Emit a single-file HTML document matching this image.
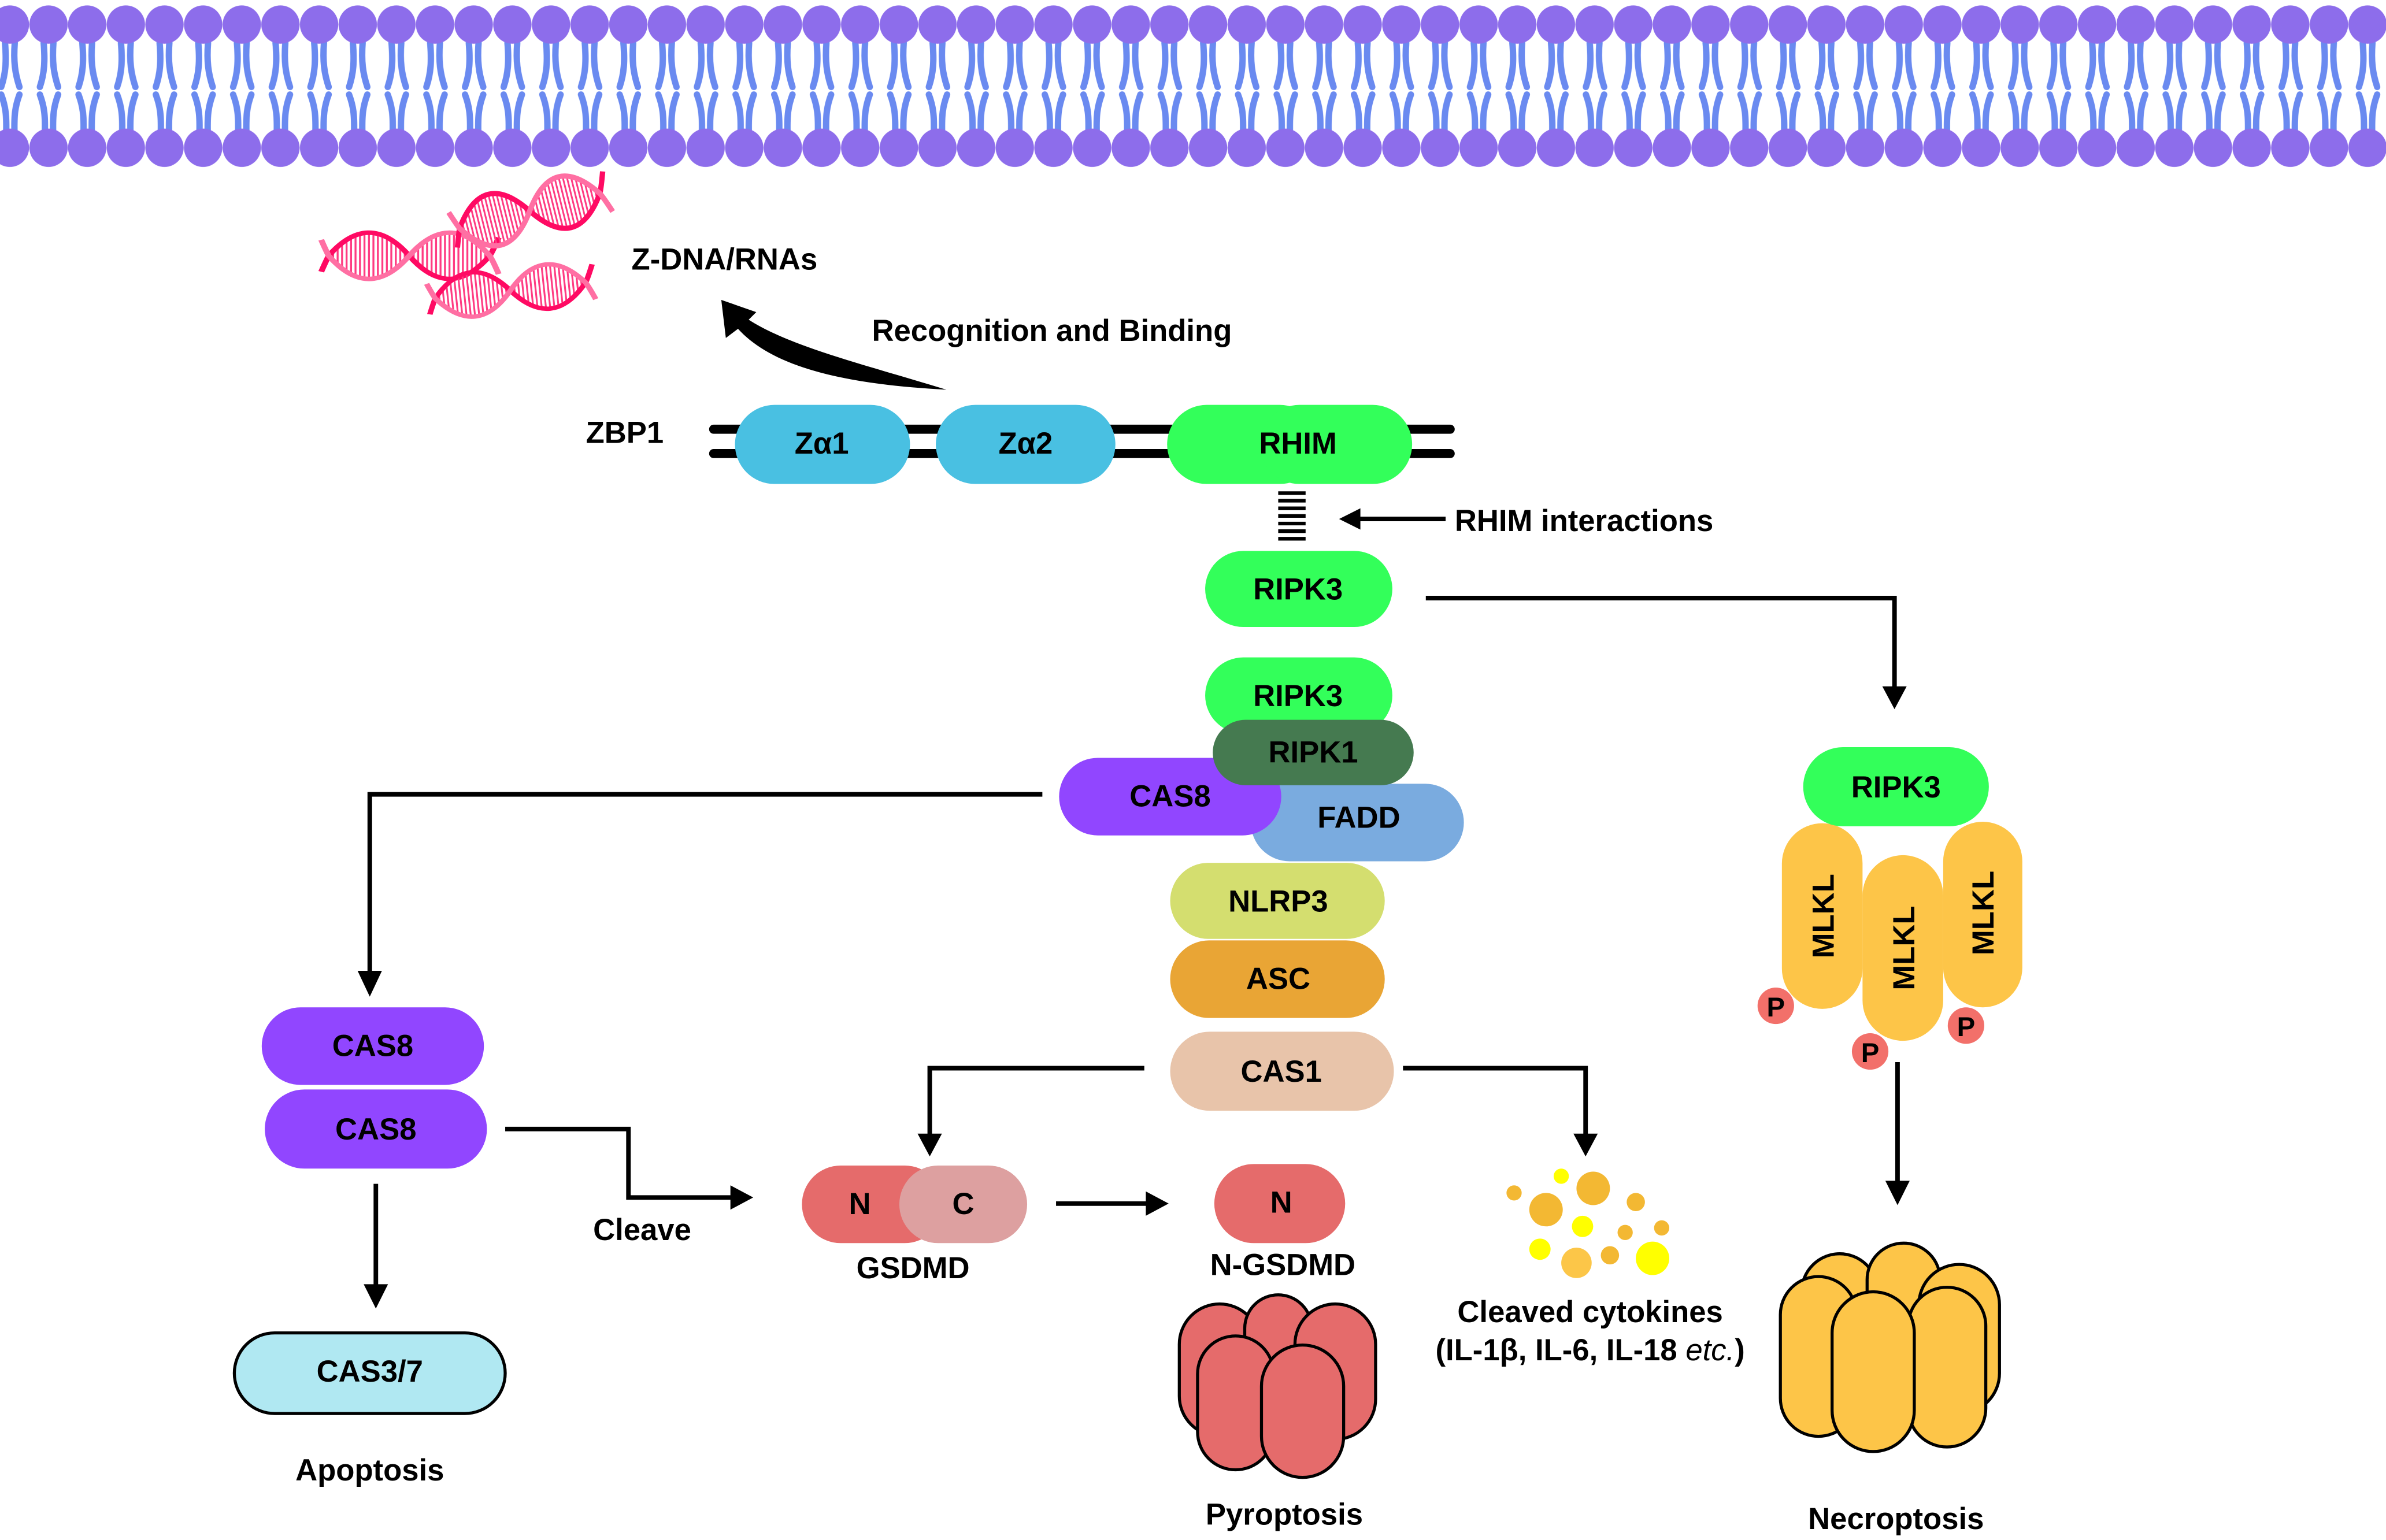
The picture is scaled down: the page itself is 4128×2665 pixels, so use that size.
<!DOCTYPE html>
<html><head><meta charset="utf-8"><style>
html,body{margin:0;padding:0;background:#fff}
svg{display:block}
text{font-family:"Liberation Sans",Arial,sans-serif;font-weight:bold;fill:#000}
</style></head><body>
<svg width="4128" height="2665" viewBox="0 0 1568 1012" xmlns="http://www.w3.org/2000/svg">
<defs>
<pattern id="mem" x="-6.2" y="0" width="25.4" height="120" patternUnits="userSpaceOnUse">
 <g stroke="#6a8af0" stroke-width="4.2" fill="none" stroke-linecap="round">
  <path d="M9.5 28 C10.5 40 10 48 7 57"/>
  <path d="M15.9 28 C15 40 16 48 19 57"/>
  <path d="M7 62 C10 70 10.5 76 10.3 86"/>
  <path d="M19 62 C16 70 15.5 76 15.7 86"/>
 </g>
 <circle cx="12.7" cy="16" r="12.6" fill="#8d6deb"/>
 <circle cx="12.7" cy="97" r="12.6" fill="#8d6deb"/>
</pattern>
<clipPath id="lens">
 <path d="M0 0 C18 -27 36 -27 54 0 C72 27 90 27 108 0 C90 -27 72 -27 54 0 C36 27 18 27 0 0Z"/>
</clipPath>
<g id="helix">
 <g clip-path="url(#lens)" stroke="#ff3b82" stroke-width="1.3">
  <path d="M3 -25V25M6 -25V25M9 -25V25M12 -25V25M15 -25V25M18 -25V25M21 -25V25M24 -25V25M27 -25V25M30 -25V25M33 -25V25M36 -25V25M39 -25V25M42 -25V25M45 -25V25M48 -25V25M51 -25V25M57 -25V25M60 -25V25M63 -25V25M66 -25V25M69 -25V25M72 -25V25M75 -25V25M78 -25V25M81 -25V25M84 -25V25M87 -25V25M90 -25V25M93 -25V25M96 -25V25M99 -25V25M102 -25V25M105 -25V25"/>
 </g>
 <path d="M-5 14 C-2 5 0 0 0 0 C18 -27 36 -27 54 0 C72 27 90 27 108 0 C110 -4 112 -10 114 -16" fill="none" stroke="#ff0a63" stroke-width="4"/>
 <path d="M-5 -14 C-2 -5 0 0 0 0 C18 27 36 27 54 0 C72 -27 90 -27 108 0 C110 4 112 10 114 16" fill="none" stroke="#ff6fa3" stroke-width="4"/>
</g>
</defs>
<rect x="0" y="0" width="1568" height="112" fill="url(#mem)"/>

<!-- DNA helices -->
<use href="#helix" transform="translate(216,168) scale(0.98,0.75)"/>
<use href="#helix" transform="translate(302,150) rotate(-14) scale(0.88,0.85)"/>
<use href="#helix" transform="translate(286,196) rotate(-6) scale(0.92,0.72)"/>
<text x="415" y="177" font-size="20">Z-DNA/RNAs</text>

<!-- curved arrow -->
<path d="M622 256 C570 240 520 228 492 210 L497 205 L474 197 L477 222 L485 216 C505 238 545 252 622 256Z" fill="#000"/>
<text x="573" y="224" font-size="20">Recognition and Binding</text>

<!-- ZBP1 -->
<text x="385" y="291" font-size="20">ZBP1</text>
<rect x="466" y="279" width="490" height="6" rx="3" fill="#000"/>
<rect x="466" y="295" width="490" height="6" rx="3" fill="#000"/>
<rect x="483" y="266" width="115" height="52" rx="26" fill="#49c0e2"/>
<rect x="615" y="266" width="118" height="52" rx="26" fill="#49c0e2"/>
<rect x="767" y="266" width="100" height="52" rx="26" fill="#33ff5a"/>
<rect x="828" y="266" width="100" height="52" rx="26" fill="#33ff5a"/>
<text x="540" y="298" font-size="20" text-anchor="middle">Zα1</text>
<text x="674" y="298" font-size="20" text-anchor="middle">Zα2</text>
<text x="853" y="298" font-size="20" text-anchor="middle">RHIM</text>

<!-- RHIM dashes -->
<g stroke="#000" stroke-width="2.4">
<path d="M840 324H858M840 329H858M840 334H858M840 339H858M840 344H858M840 349H858M840 354H858"/>
</g>
<path d="M950 341H892" stroke="#000" stroke-width="3"/>
<path d="M880 341 L894 334 L894 348Z" fill="#000"/>
<text x="956" y="349" font-size="20">RHIM interactions</text>

<!-- center stack -->
<rect x="792" y="362" width="123" height="50" rx="25" fill="#33ff5a"/>
<text x="853" y="394" font-size="20" text-anchor="middle">RIPK3</text>
<rect x="792" y="432" width="123" height="50" rx="25" fill="#33ff5a"/>
<text x="853" y="464" font-size="20" text-anchor="middle">RIPK3</text>
<rect x="822" y="515" width="140" height="51" rx="25.5" fill="#7aabdf"/>
<rect x="696" y="498" width="146" height="51" rx="25.5" fill="#9146ff"/>
<rect x="797" y="473" width="132" height="43" rx="21.5" fill="#457a50"/>
<text x="863" y="501" font-size="20" text-anchor="middle">RIPK1</text>
<text x="769" y="530" font-size="20" text-anchor="middle">CAS8</text>
<text x="893" y="544" font-size="20" text-anchor="middle">FADD</text>
<rect x="769" y="567" width="141" height="50" rx="25" fill="#d4de6f"/>
<text x="840" y="599" font-size="20" text-anchor="middle">NLRP3</text>
<rect x="769" y="618" width="141" height="51" rx="25.5" fill="#e9a535"/>
<text x="840" y="650" font-size="20" text-anchor="middle">ASC</text>
<rect x="769" y="678" width="147" height="52" rx="26" fill="#e8c4aa"/>
<text x="842" y="711" font-size="20" text-anchor="middle">CAS1</text>

<!-- arrows -->
<g stroke="#000" stroke-width="3" fill="none">
<path d="M937 393H1245V452"/>
<path d="M685 522H243V640"/>
<path d="M247 778V845"/>
<path d="M332 742H413V787H482"/>
<path d="M694 791H755"/>
<path d="M752 702H611V747"/>
<path d="M922 702H1042V747"/>
<path d="M1247 698V778"/>
</g>
<g fill="#000">
<path d="M1237 451L1253 451L1245 466Z"/>
<path d="M235 638L251 638L243 655Z"/>
<path d="M239 844L255 844L247 860Z"/>
<path d="M480 779L480 795L495 787Z"/>
<path d="M753 783L753 799L768 791Z"/>
<path d="M603 745L619 745L611 760Z"/>
<path d="M1034 745L1050 745L1042 760Z"/>
<path d="M1239 776L1255 776L1247 792Z"/>
</g>

<!-- right: RIPK3 + MLKL -->
<rect x="1171" y="541" width="53" height="122" rx="26.5" fill="#fdc548"/>
<rect x="1277" y="540" width="52" height="122" rx="26" fill="#fdc548"/>
<rect x="1224" y="562" width="53" height="122" rx="26.5" fill="#fdc548"/>
<rect x="1185" y="491" width="122" height="52" rx="26" fill="#33ff5a"/>
<text x="1246" y="524" font-size="20" text-anchor="middle">RIPK3</text>
<text transform="translate(1205,602) rotate(-90)" font-size="20" text-anchor="middle">MLKL</text>
<text transform="translate(1258,623) rotate(-90)" font-size="20" text-anchor="middle">MLKL</text>
<text transform="translate(1310,600) rotate(-90)" font-size="20" text-anchor="middle">MLKL</text>
<circle cx="1167" cy="661" r="12" fill="#f2706a"/>
<circle cx="1229" cy="691" r="12" fill="#f2706a"/>
<circle cx="1292" cy="674" r="12" fill="#f2706a"/>
<text x="1167" y="668" font-size="18" text-anchor="middle">P</text>
<text x="1229" y="698" font-size="18" text-anchor="middle">P</text>
<text x="1292" y="681" font-size="18" text-anchor="middle">P</text>

<!-- necroptosis barrel -->
<g fill="#fdc548" stroke="#000" stroke-width="2">
<rect x="1184" y="824" width="50" height="106" rx="25"/>
<rect x="1227" y="817" width="48" height="100" rx="24"/>
<rect x="1261" y="831" width="53" height="98" rx="26.5"/>
<rect x="1170" y="839" width="50" height="105" rx="25"/>
<rect x="1254" y="846" width="51" height="105" rx="25.5"/>
<rect x="1204" y="849" width="54" height="105" rx="27"/>
</g>
<text x="1246" y="1005" font-size="20" text-anchor="middle">Necroptosis</text>

<!-- left CAS8 -->
<rect x="172" y="662" width="146" height="51" rx="25.5" fill="#9146ff"/>
<text x="245" y="694" font-size="20" text-anchor="middle">CAS8</text>
<rect x="174" y="716" width="146" height="52" rx="26" fill="#9146ff"/>
<text x="247" y="749" font-size="20" text-anchor="middle">CAS8</text>
<rect x="154" y="876" width="178" height="53" rx="26.5" fill="#b0e8f2" stroke="#000" stroke-width="2"/>
<text x="243" y="908" font-size="20" text-anchor="middle">CAS3/7</text>
<text x="243" y="973" font-size="20" text-anchor="middle">Apoptosis</text>
<text x="422" y="815" font-size="20" text-anchor="middle">Cleave</text>

<!-- GSDMD -->
<rect x="527" y="766" width="93" height="51" rx="25.5" fill="#e56b6b"/>
<rect x="591" y="766" width="84" height="51" rx="25.5" fill="#dda0a0"/>
<text x="565" y="798" font-size="20" text-anchor="middle">N</text>
<text x="633" y="798" font-size="20" text-anchor="middle">C</text>
<text x="600" y="840" font-size="20" text-anchor="middle">GSDMD</text>

<rect x="798" y="765" width="86" height="52" rx="26" fill="#e56b6b"/>
<text x="842" y="797" font-size="20" text-anchor="middle">N</text>
<text x="843" y="838" font-size="20" text-anchor="middle">N-GSDMD</text>

<!-- pyroptosis barrel -->
<g fill="#e56b6b" stroke="#000" stroke-width="2">
<rect x="775" y="857" width="53" height="87" rx="26.5"/>
<rect x="818" y="851" width="44" height="80" rx="22"/>
<rect x="851" y="857" width="53" height="89" rx="26.5"/>
<rect x="787" y="878" width="50" height="88" rx="25"/>
<rect x="829" y="884" width="54" height="87" rx="27"/>
</g>
<text x="844" y="1002" font-size="20" text-anchor="middle">Pyroptosis</text>

<!-- cytokines -->
<g>
<circle cx="995" cy="784" r="5" fill="#f3b833"/>
<circle cx="1026" cy="773" r="5" fill="#ffff00"/>
<circle cx="1047" cy="781" r="11" fill="#f3b833"/>
<circle cx="1075" cy="790" r="6" fill="#f3b833"/>
<circle cx="1016" cy="795" r="11" fill="#f3b833"/>
<circle cx="1040" cy="806" r="7" fill="#ffff00"/>
<circle cx="1068" cy="810" r="5" fill="#f3b833"/>
<circle cx="1092" cy="807" r="5" fill="#f3b833"/>
<circle cx="1012" cy="821" r="7" fill="#ffff00"/>
<circle cx="1036" cy="830" r="10" fill="#fcc648"/>
<circle cx="1058" cy="825" r="6" fill="#f3b833"/>
<circle cx="1086" cy="827" r="11" fill="#ffff00"/>
</g>
<text x="1045" y="869" font-size="20" text-anchor="middle">Cleaved cytokines</text>
<text x="1045" y="894" font-size="20" text-anchor="middle">(IL-1β, IL-6, IL-18 <tspan font-style="italic" font-weight="normal">etc.</tspan>)</text>
</svg>
</body></html>
